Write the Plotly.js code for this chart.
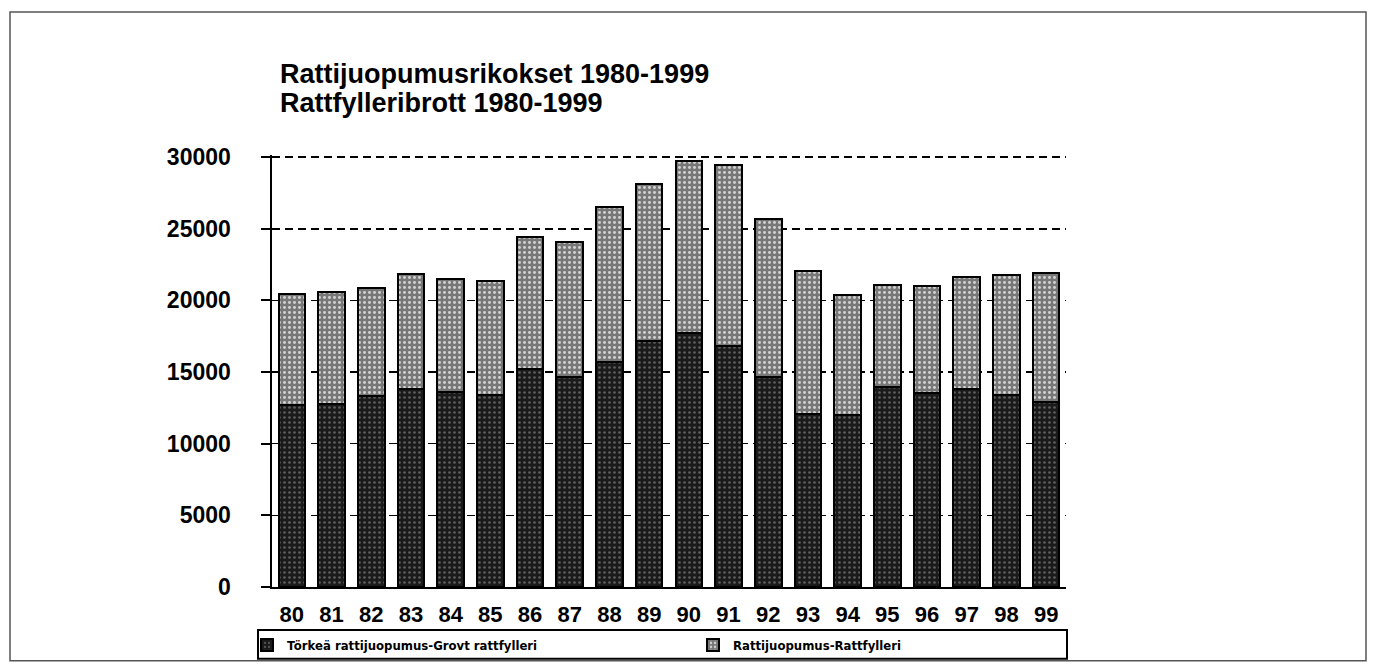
<!DOCTYPE html>
<html>
<head>
<meta charset="utf-8">
<script src="https://cdn.plot.ly/plotly-3.0.1.min.js"></script>
<style>html,body{margin:0;padding:0;background:#fff;}#chart{width:1374px;height:672px;}</style>
</head>
<body>
<div id="chart"></div>
<script>
const years = ['80','81','82','83','84','85','86','87','88','89','90','91','92','93','94','95','96','97','98','99'];
const grovt = [12680, 12800, 13300, 13830, 13640, 13370, 15210, 14640, 15700, 17170, 17750, 16830, 14640, 12100, 11990, 13990, 13530, 13830, 13370, 12900];
const rattfylleri = [7790, 7770, 7560, 8000, 7850, 8000, 9230, 9430, 10820, 10960, 11990, 12640, 11070, 9960, 8410, 7100, 7490, 7790, 8410, 9000];
const seriesNames = ['Törkeä rattijuopumus-Grovt rattfylleri', 'Rattijuopumus-Rattfylleri'];
const titleLines = ['Rattijuopumusrikokset 1980-1999', 'Rattfylleribrott 1980-1999'];
const yTicks = [0, 5000, 10000, 15000, 20000, 25000, 30000];

const FONT = 'Liberation Sans, Arial, Helvetica, sans-serif';
const NARROW = 'Liberation Sans Narrow, Arial Narrow, DejaVu Sans Condensed, sans-serif';

// plot area in pixels: 30000 sits at y=157.5, 0 at y=591.5
const L = 272, R = 1066, B = 591.5;
const YMAX = 30150;
const T = B - 434 * YMAX / 30000;
const px = x => (x - L) / (R - L);
const py = y => (B - y) / (B - T);
const PAD = '\u00a0\u00a0\u00a0\u00a0';

const traces = [
  {
    type: 'bar', x: years, y: grovt, name: seriesNames[0],
    marker: {color: '#1a1a1a', line: {color: '#000', width: 2},
             pattern: {shape: '.', fgcolor: '#5e5e5e', bgcolor: '#1a1a1a', size: 5, solidity: 0.22}},
    legend: 'legend', hoverinfo: 'x+y+name'
  },
  {
    type: 'bar', x: years, y: rattfylleri, name: seriesNames[1],
    marker: {color: '#7c7c7c', line: {color: '#000', width: 2},
             pattern: {shape: '.', fgcolor: '#d2d2d2', bgcolor: '#777777', size: 5, solidity: 0.28}},
    legend: 'legend2', hoverinfo: 'x+y+name'
  }
];

const layout = {
  width: 1374, height: 672,
  margin: {l: L, r: 1374 - R, t: T, b: 672 - B, pad: 0},
  paper_bgcolor: '#fff', plot_bgcolor: '#fff',
  barmode: 'stack', bargap: 0.33,
  font: {family: FONT, color: '#000'},
  title: {
    text: titleLines[0],
    font: {family: FONT, size: 27, weight: 'bold', color: '#000'},
    x: 280 / 1374, xanchor: 'left', xref: 'container',
    y: 1 - 74 / 672, yanchor: 'middle', yref: 'container'
  },
  annotations: [{
    text: titleLines[1], showarrow: false,
    xref: 'paper', yref: 'paper', x: px(278), y: py(103),
    xanchor: 'left', yanchor: 'middle',
    font: {family: FONT, size: 27, weight: 'bold', color: '#000'}
  }],
  xaxis: {
    type: 'category', range: [-0.5, 19.5],
    showline: true, linecolor: '#000', linewidth: 2,
    ticks: '', showgrid: false,
    tickfont: {family: FONT, size: 22, weight: 'bold', color: '#000'},
    ticklabelstandoff: 7, fixedrange: true
  },
  yaxis: {
    range: [0, YMAX], tickvals: yTicks, ticktext: yTicks.map(v => String(v) + PAD),
    showline: true, linecolor: '#000', linewidth: 2,
    ticks: 'outside', ticklen: 9, tickwidth: 2, tickcolor: '#000',
    showgrid: true, gridcolor: '#000', gridwidth: 1.5, griddash: '8px,5px',
    zeroline: false,
    tickfont: {family: FONT, size: 23, weight: 'bold', color: '#000'},
    fixedrange: true
  },
  legend: {
    orientation: 'h', x: px(247), xanchor: 'left', y: py(650), yanchor: 'middle',
    bgcolor: 'rgba(0,0,0,0)', borderwidth: 0,
    font: {family: NARROW, size: 13, weight: 'bold', color: '#000'}
  },
  legend2: {
    orientation: 'h', x: px(693), xanchor: 'left', y: py(650), yanchor: 'middle',
    bgcolor: 'rgba(0,0,0,0)', borderwidth: 0,
    font: {family: NARROW, size: 13, weight: 'bold', color: '#000'}
  },
  shapes: [
    {type: 'rect', xref: 'paper', yref: 'paper', x0: px(10), x1: px(1366), y0: py(666), y1: py(11),
     line: {color: '#555', width: 1.5}, fillcolor: 'rgba(0,0,0,0)', layer: 'below'},
    {type: 'rect', xref: 'paper', yref: 'paper', x0: px(258), x1: px(1067), y0: py(664), y1: py(635),
     line: {color: '#000', width: 2}, fillcolor: 'rgba(0,0,0,0)', layer: 'above'}
  ],
  showlegend: true
};

Plotly.newPlot('chart', traces, layout, {displayModeBar: false, staticPlot: true});
</script>
</body>
</html>
